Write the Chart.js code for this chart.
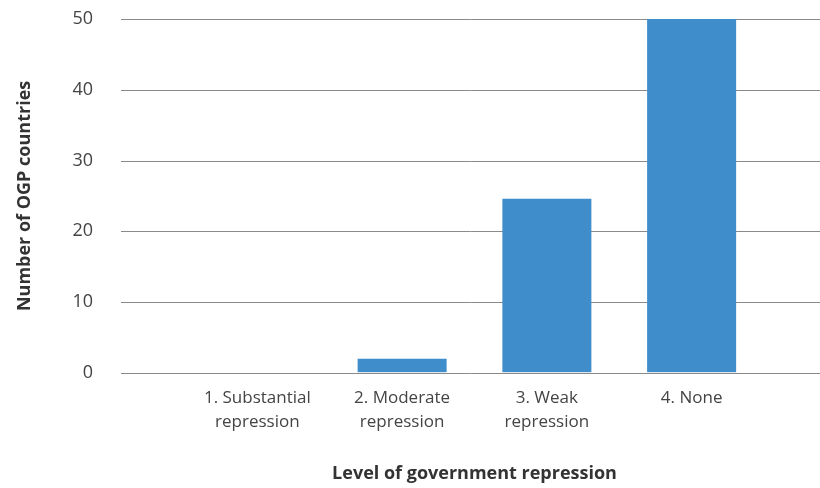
<!DOCTYPE html>
<html>
<head>
<meta charset="utf-8">
<script src="https://cdn.jsdelivr.net/npm/chart.js@4"></script>
<style>
  html, body { margin: 0; padding: 0; background: #fff; }
  #wrap { width: 820px; height: 488px; }
</style>
</head>
<body>
<div id="wrap"><canvas id="repressionChart"></canvas></div>
<script>
// Chart data
const categories = [
    ['1. Substantial', 'repression'],
    ['2. Moderate', 'repression'],
    ['3. Weak', 'repression'],
    '4. None'
];
const countryCounts = [0, 2, 24.6, 50];
const yTicks = [0, 10, 20, 30, 40, 50];

const fontFamily = '"Open Sans", Lato, sans-serif';

// gridlines run wider than the bar area, so draw them ourselves
const wideGrid = {
    id: 'wideGrid',
    beforeDatasetsDraw(chart) {
        const ctx = chart.ctx;
        const y = chart.scales.y;
        ctx.save();
        ctx.strokeStyle = '#8a8a8a';
        ctx.lineWidth = 1;
        yTicks.forEach(t => {
            const py = Math.round(y.getPixelForValue(t)) + 0.5;
            ctx.beginPath();
            ctx.moveTo(121, py);
            ctx.lineTo(820, py);
            ctx.stroke();
        });
        ctx.restore();
    }
};

const ctx = document.getElementById('repressionChart').getContext('2d');
const repressionChart = new Chart(ctx, {
    type: 'bar',
    data: {
        labels: categories,
        datasets: [{
            label: 'Number of OGP countries',
            data: countryCounts,
            backgroundColor: '#3f8dcb',
            categoryPercentage: 1,
            barPercentage: 0.615
        }]
    },
    options: {
        responsive: true,
        maintainAspectRatio: false,
        animation: false,
        layout: { padding: { top: 19, right: 56, bottom: 3, left: 0 } },
        plugins: {
            legend: { display: false },
            tooltip: { enabled: false }
        },
        scales: {
            x: {
                grid: { display: false, drawTicks: false },
                border: { display: false },
                ticks: {
                    color: '#444',
                    font: { family: fontFamily, size: 17, lineHeight: 1.37 },
                    padding: 14,
                    maxRotation: 0,
                    autoSkip: false
                },
                title: {
                    display: true,
                    text: 'Level of government repression',
                    color: '#333',
                    font: { family: fontFamily, size: 18, weight: 'bold' },
                    padding: { top: 16, bottom: 0 }
                }
            },
            y: {
                min: 0,
                max: 50,
                afterFit: scale => { scale.width = 185; },
                grid: {
                    display: true,
                    drawOnChartArea: false,
                    drawTicks: true,
                    tickLength: 84,
                    color: 'rgba(0,0,0,0)'
                },
                border: { display: false },
                ticks: {
                    stepSize: 10,
                    color: '#444',
                    font: { family: fontFamily, size: 18 },
                    padding: 8
                },
                title: {
                    display: true,
                    text: 'Number of OGP countries',
                    color: '#333',
                    font: { family: fontFamily, size: 18, weight: 'bold' },
                    padding: { top: 14, bottom: 0 }
                }
            }
        }
    },
    plugins: [wideGrid]
});
</script>
</body>
</html>
